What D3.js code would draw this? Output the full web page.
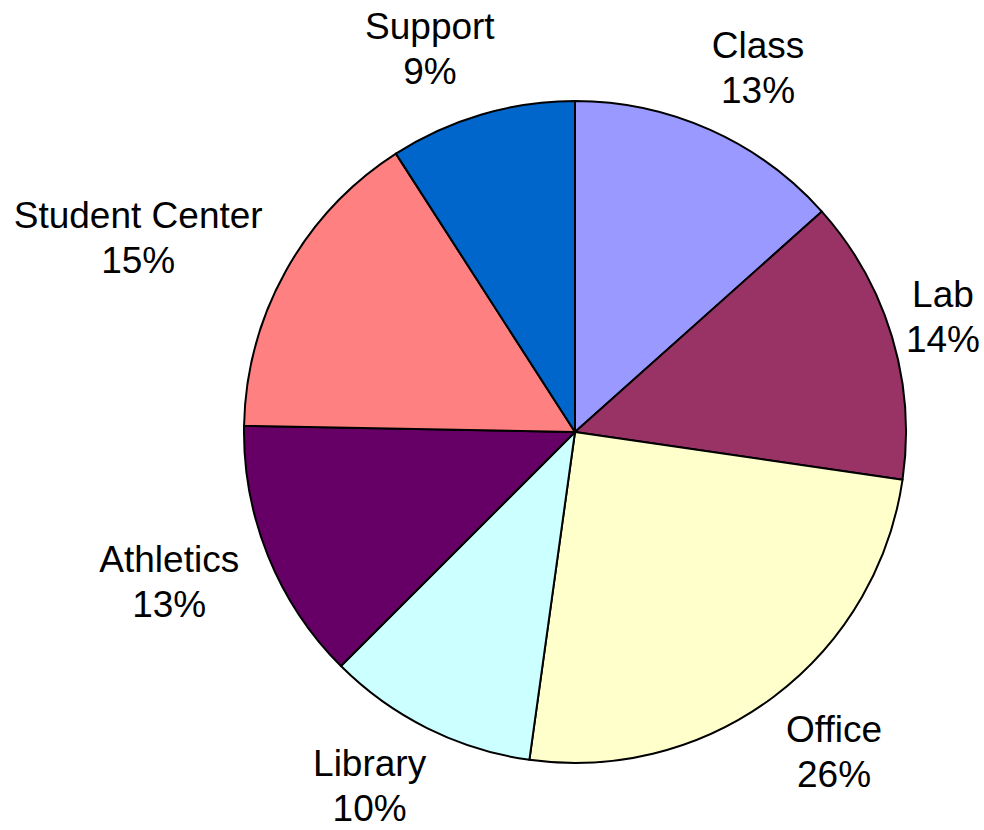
<!DOCTYPE html>
<html>
<head>
<meta charset="utf-8">
<script src="https://cdn.jsdelivr.net/npm/d3@7"></script>
<style>
  html, body { margin: 0; padding: 0; background: #ffffff; }
  svg { display: block; }
  .label { font-family: "Liberation Sans", Arial, sans-serif; font-size: 37px; fill: #000000; }
</style>
</head>
<body>
<div id="chart"></div>
<script>

// slices, clockwise from twelve o'clock
var categories = [ "Class", "Lab", "Office", "Library", "Athletics", "Student Center", "Support" ];
// shares as drawn
var shares = [ 13.4, 13.9, 24.9, 10.3, 12.8, 15.6, 9.1 ];
// percentages as printed on the chart
var pctLabels = [ "13%", "14%", "26%", "10%", "13%", "15%", "9%" ];
var colors = [ "#9999ff", "#993366", "#ffffcc", "#ccffff", "#660066", "#ff8080", "#0066cc" ];

var width = 984;
var height = 830;
var cx = 575;
var cy = 432;
var radius = 331;
var labelRadius = 364;
var lineGap = 45;
var capHeight = 26;

var svg = d3.select( "#chart" ).append( "svg" )
  .attr( "width", width )
  .attr( "height", height );

var data = categories.map( function( name, i ) {
  return { name: name, value: shares[ i ], pct: pctLabels[ i ], color: colors[ i ] };
} );

var pie = d3.pie()
  .sort( null )
  .value( function( d ) { return d.value; } );

var arc = d3.arc()
  .innerRadius( 0 )
  .outerRadius( radius );

var arcs = pie( data );

var g = svg.append( "g" ).attr( "transform", "translate(" + cx + "," + cy + ")" );

g.selectAll( "path.slice" )
  .data( arcs )
  .enter()
  .append( "path" )
  .attr( "class", "slice" )
  .attr( "d", arc )
  .attr( "fill", function( d ) { return d.data.color; } )
  .attr( "stroke", "#000000" )
  .attr( "stroke-width", 2 )
  .attr( "stroke-linejoin", "round" );

// labels sit outside the pie, pushed out by their own box
var labels = g.selectAll( "text.label" )
  .data( arcs )
  .enter()
  .append( "text" )
  .attr( "class", "label" )
  .attr( "text-anchor", "middle" );

labels.append( "tspan" ).attr( "class", "name" ).text( function( d ) { return d.data.name; } );
labels.append( "tspan" ).attr( "class", "pct" ).text( function( d ) { return d.data.pct; } );

labels.each( function( d ) {
  var text = d3.select( this );
  var w = Math.max(
    text.select( "tspan.name" ).node().getComputedTextLength(),
    text.select( "tspan.pct" ).node().getComputedTextLength() );
  var h = capHeight + lineGap;
  var mid = ( d.startAngle + d.endAngle ) / 2;
  var s = Math.sin( mid );
  var c = Math.cos( mid );
  var bx = labelRadius * s + w / 2 * Math.cbrt( s );
  var by = -labelRadius * c - h / 2 * c;
  // keep the box (and the glyph descent) inside the picture
  bx = Math.max( -cx + w / 2 + 4, Math.min( width - cx - w / 2 - 4, bx ) );
  by = Math.max( -cy + h / 2 + 10, Math.min( height - cy - h / 2 - 9, by ) );
  text.select( "tspan.name" ).attr( "x", bx ).attr( "y", by - h / 2 + capHeight );
  text.select( "tspan.pct" ).attr( "x", bx ).attr( "y", by - h / 2 + capHeight + lineGap );
} );

</script>
</body>
</html>
